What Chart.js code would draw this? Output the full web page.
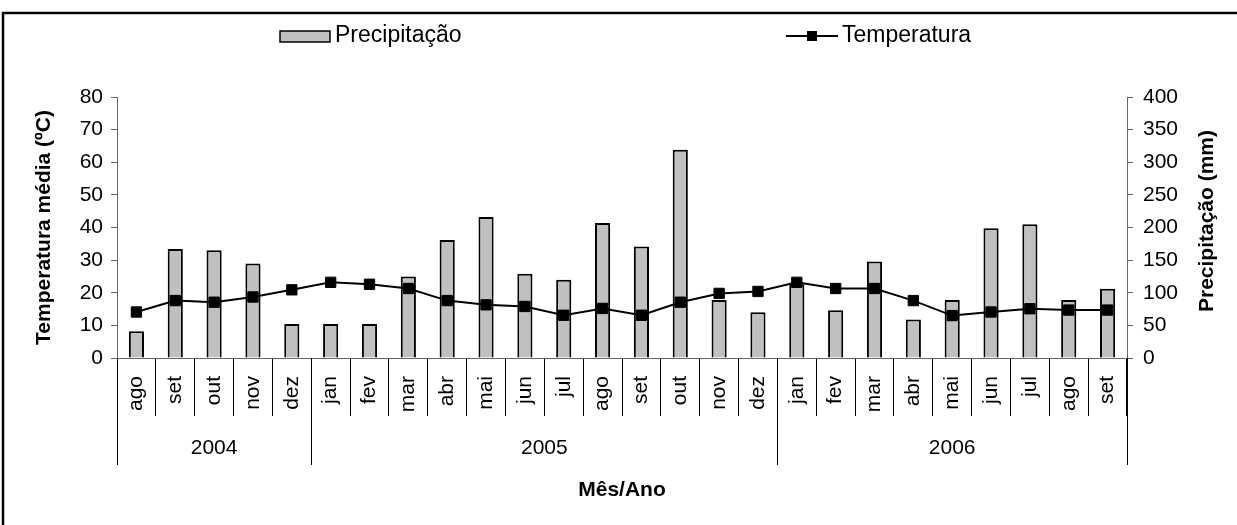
<!DOCTYPE html>
<html>
<head>
<meta charset="utf-8">
<script src="https://cdn.jsdelivr.net/npm/chart.js@4"></script>
<style>
  body { margin: 0; background: #fff; }
  #wrap { position: absolute; left: 0; top: 0; width: 1237px; height: 525px; }
</style>
</head>
<body>
<div id="wrap"><canvas id="grafico" width="1237" height="525"></canvas></div>
<script>
// Dados

const meses = ["ago", "set", "out", "nov", "dez",
    "jan", "fev", "mar", "abr", "mai", "jun", "jul", "ago", "set", "out", "nov", "dez",
    "jan", "fev", "mar", "abr", "mai", "jun", "jul", "ago", "set"];
const anos = ["2004", "2005", "2006"];
const mesesPorAno = [5, 12, 9];

const precipitacao = [41, 167, 165, 145, 52, 52, 52, 125, 181, 216, 129, 120, 207,
    171, 319, 89, 70, 113, 73, 148, 59, 89, 199, 205, 89, 106];
const temperatura = [14.1, 17.6, 17.1, 18.7, 20.9, 23.2, 22.6, 21.3, 17.6, 16.3, 15.8,
    13.1, 15.2, 13.1, 17.1, 19.8, 20.4, 23.2, 21.3, 21.3, 17.6, 13.0, 14.1, 15.1, 14.7, 14.7];

const fonte = "Arial, 'Liberation Sans', sans-serif";
const corEixo = "#666";

// Extras: moldura, legenda, titulo da direita, anos

const extras = {
    id: "extras",
    afterDraw(chart) {
        const c = chart.ctx;
        const x = chart.scales.x;
        const area = chart.chartArea;
        c.save();

        // moldura
        c.strokeStyle = "#000";
        c.lineWidth = 2.5;
        c.strokeRect(3, 13, 1400, 700);

        // legenda
        c.font = "23px " + fonte;
        c.textBaseline = "middle";
        c.fillStyle = "#c0c0c0";
        c.fillRect(280, 31, 50, 11);
        c.lineWidth = 1.5;
        c.strokeStyle = "#000";
        c.strokeRect(280, 31, 50, 11);
        c.fillStyle = "#000";
        c.fillText(chart.data.datasets[1].label, 335, 36);

        c.lineWidth = 2;
        c.beginPath();
        c.moveTo(786, 36);
        c.lineTo(838, 36);
        c.stroke();
        c.fillRect(807, 31, 10, 10);
        c.fillText(chart.data.datasets[0].label, 842, 36);

        // titulo eixo direito
        c.save();
        c.translate(1207, 221);
        c.rotate(-Math.PI / 2);
        c.font = "bold 21px " + fonte;
        c.textAlign = "center";
        c.fillText("Precipitação (mm)", 0, 0);
        c.restore();

        // anos
        const meio = (x.getPixelForValue(1) - x.getPixelForValue(0)) / 2;
        c.strokeStyle = "#000";
        c.lineWidth = 1;
        c.font = "21px " + fonte;
        c.textAlign = "center";
        let ini = 0;
        const bordas = [x.getPixelForValue(0) - meio];
        mesesPorAno.forEach((n, i) => {
            const fim = ini + n - 1;
            const esq = x.getPixelForValue(ini) - meio;
            const dir = x.getPixelForValue(fim) + meio;
            bordas.push(dir);
            c.fillText(anos[i], (esq + dir) / 2, 448);
            ini += n;
        });
        bordas.forEach(b => {
            const px = Math.round(b) + 0.5;
            c.beginPath();
            c.moveTo(px, area.bottom);
            c.lineTo(px, 465);
            c.stroke();
        });
        c.restore();
    }
};

const ctx = document.getElementById("grafico");

const chart = new Chart(ctx, {
    type: "bar",
    data: {
        labels: meses,
        datasets: [
        {
            type: "line",
            label: "Temperatura",
            data: temperatura,
            yAxisID: "y",
            order: 0,
            borderColor: "#000",
            borderWidth: 2,
            tension: 0,
            pointStyle: "rect",
            pointRadius: 7.3,
            pointBackgroundColor: "#000",
            pointBorderColor: "#000",
            pointBorderWidth: 1,
        },
        {
            label: "Precipitação",
            data: precipitacao,
            yAxisID: "y1",
            order: 1,
            backgroundColor: "#c0c0c0",
            borderColor: "#000",
            borderWidth: 2,
            barPercentage: 0.39,
            categoryPercentage: 1,
        },
    ]
    },
    options: {
        responsive: false,
        animation: false,
        devicePixelRatio: 1,
        layout: {
            padding: { top: 97, left: 0, right: 0, bottom: 0 }
        },
        plugins: {
            legend: { display: false },
            tooltip: { enabled: false },
        },
        scales: {
            x: {
                offset: true,
                afterFit: (s) => { s.height = 167; },
                grid: {
                    offset: true,
                    drawOnChartArea: false,
                    tickLength: 58,
                    color: "#000",
                },
                border: { color: corEixo, width: 1 },
                ticks: {
                    autoSkip: false,
                    minRotation: 90,
                    maxRotation: 90,
                    padding: -40,
                    color: "#000",
                    font: { family: fonte, size: 21 },
                },
                title: {
                    display: true,
                    text: "Mês/Ano",
                    color: "#000",
                    font: { family: fonte, size: 21, weight: "bold" },
                    padding: { top: 0, bottom: 22 },
                },
            },
            y: {
                position: "left",
                min: 0,
                max: 80,
                afterFit: (s) => { s.width = 117; },
                ticks: {
                    stepSize: 10,
                    padding: 8,
                    color: "#000",
                    font: { family: fonte, size: 21 },
                },
                grid: {
                    drawOnChartArea: false,
                    tickLength: 6,
                    color: corEixo,
                },
                border: { color: corEixo, width: 1 },
                title: {
                    display: true,
                    text: "Temperatura média (ºC)",
                    color: "#000",
                    font: { family: fonte, size: 21, weight: "bold" },
                    padding: { top: 32, bottom: 0 },
                },
            },
            y1: {
                position: "right",
                min: 0,
                max: 400,
                afterFit: (s) => { s.width = 110; },
                ticks: {
                    stepSize: 50,
                    padding: 10,
                    color: "#000",
                    font: { family: fonte, size: 21 },
                },
                grid: {
                    drawOnChartArea: false,
                    tickLength: 6,
                    color: corEixo,
                },
                border: { color: corEixo, width: 1 },
            },
        },
    },
    plugins: [extras],
});
</script>
</body>
</html>
